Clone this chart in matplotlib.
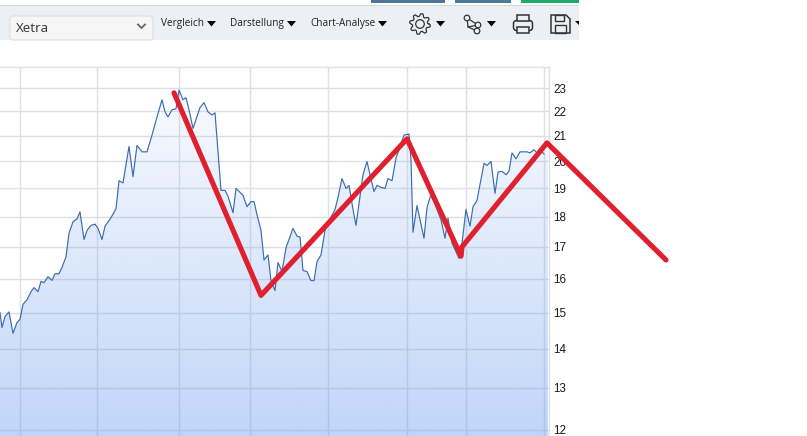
#!/usr/bin/env python3
"""Xetra price chart (log scale) with a hand drawn red zigzag on top."""

import numpy as np
import matplotlib
matplotlib.use('Agg')
import matplotlib.pyplot as plt
from matplotlib.patches import Circle, FancyBboxPatch, Polygon, Rectangle
from matplotlib.ticker import NullLocator

# price series
days = [0, 2, 5, 9, 13, 17, 20, 23, 27, 31, 34, 38, 41, 44, 48, 52, 55, 59, 62, 66,
        69, 73, 77, 80, 84, 87, 91, 95, 98, 102, 105, 109, 112, 116, 119, 123, 129, 133,
        137, 142, 147, 152, 157, 162, 165, 168, 172, 176, 179, 183, 186, 189, 193, 200,
        204, 208, 212, 215, 221, 225, 228, 233, 236, 240, 243, 247, 251, 254, 257, 261,
        264, 268, 271, 275, 278, 282, 286, 293, 297, 300, 303, 307, 311, 314, 317, 321,
        325, 330, 335, 338, 342, 346, 349, 353, 356, 360, 363, 367, 370, 374, 377, 381,
        385, 388, 392, 396, 400, 404, 409, 411, 413, 417, 420, 424, 427, 431, 436, 441,
        445, 448, 452, 459, 462, 466, 470, 473, 477, 484, 487, 491, 495, 498, 502, 506,
        509, 512, 516, 520, 524, 527, 530, 534, 537, 540, 544]
prices = [15.0, 14.58, 14.89, 15.02, 14.42, 14.72, 14.81, 15.24, 15.37, 15.61, 15.73, 15.61,
          15.92, 15.88, 16.06, 15.95, 16.15, 16.15, 16.35, 16.68, 17.45, 17.83, 17.93, 18.17,
          17.24, 17.54, 17.71, 17.75, 17.61, 17.24, 17.68, 17.87, 18.03, 18.28, 19.28, 19.2,
          20.58, 19.43, 20.62, 20.37, 20.37, 21.03, 21.77, 22.49, 21.98, 21.77, 22.07, 22.11,
          22.91, 22.49, 22.58, 22.07, 21.3, 22.16, 22.37, 21.98, 21.85, 21.94, 18.93, 18.93,
          18.72, 18.14, 19.0, 18.86, 18.75, 18.35, 18.53, 18.53, 18.07, 17.54, 16.58, 16.74,
          15.94, 15.64, 16.5, 16.22, 16.97, 17.61, 17.35, 17.32, 16.25, 16.22, 15.94, 15.94,
          16.53, 16.74, 17.54, 17.93, 18.25, 18.68, 19.36, 19.0, 19.11, 18.25, 17.71, 18.72,
          19.5, 20.0, 19.5, 18.89, 19.11, 19.04, 19.0, 19.36, 19.28, 20.13, 20.56, 21.03,
          21.07, 20.06, 17.48, 18.39, 17.9, 17.28, 18.32, 18.79, 18.35, 17.9, 17.28, 17.96,
          17.12, 16.63, 17.12, 18.25, 17.68, 18.35, 18.57, 19.93, 19.85, 20.0, 18.82, 19.6,
          19.63, 19.5, 19.63, 20.33, 20.1, 20.37, 20.37, 20.37, 20.33, 20.45, 20.33, 20.45,
          20.29]

# red zigzag drawn over the chart
zigzag_days = [174, 261, 407, 461, 462, 547, 666]
zigzag_prices = [22.79, 15.5, 20.88, 16.7, 17.0, 20.72, 16.58]

y_ticks = [12, 13, 14, 15, 16, 17, 18, 19, 20, 21, 22, 23]
x_grid = [20, 97, 179, 250, 328, 407, 466, 544]
menu_labels = ['Vergleich', 'Darstellung', 'Chart-Analyse']
market = 'Xetra'

W, H = 807, 436
GRID = '#dfe0e3'
DARK = '#222222'

fig = plt.figure(figsize=(W / 100, H / 100), dpi=100, facecolor='white')

# toolbar lives in an overlay in pixel coordinates
bar = fig.add_axes([0, 0, 1, 1], zorder=3)
bar.set_xlim(0, W)
bar.set_ylim(H, 0)
bar.axis('off')
bar.patch.set_alpha(0)

bar.add_patch(Rectangle((0, 5), 579, 35, fc='#eceff3', ec='none'))
bar.add_patch(Rectangle((0, 5), 579, 1, fc='#d3d8dd', ec='none'))
bar.add_patch(Rectangle((371, 0), 74, 3, fc='#4f7796', ec='none'))
bar.add_patch(Rectangle((455, 0), 56, 3, fc='#4f7796', ec='none'))
bar.add_patch(Rectangle((521, 0), 58, 3, fc='#1aab6b', ec='none'))

bar.add_patch(FancyBboxPatch((11, 17), 141, 22, boxstyle='round,pad=1,rounding_size=3',
                             fc='#f6f6f6', ec='#dedede', lw=0.8))
bar.text(16, 28, market, fontsize=9.6, family='Open Sans', color='#333333', va='center')
bar.plot([138, 141.5, 145], [24.5, 28, 24.5], color='#666666', lw=1.3)

for label, x in zip(menu_labels, [161, 230, 310]):
    bar.text(x, 23.5, label, fontsize=7.2, family='Open Sans', color=DARK, va='center')
for x in [207, 287, 378, 436, 487]:
    bar.add_patch(Polygon([(x, 21), (x + 9, 21), (x + 4.5, 26.5)], fc='black', ec='none'))
bar.add_patch(Polygon([(575, 21), (579, 21), (579, 25.5)], fc='black', ec='none'))

# gear icon
ang = np.linspace(0, 2 * np.pi, 65)
rad = 9 + 1.4 * np.tanh(3 * np.sin(8 * ang))
bar.plot(420 + rad * np.cos(ang), 24 + rad * np.sin(ang), color='#333333', lw=0.9)
bar.add_patch(Circle((420, 24), 4.3, fc='none', ec='#333333', lw=0.9))

# network icon
net = [(467, 18), (478, 25), (468, 27), (477, 31)]
bar.plot([467, 468, 477], [18, 27, 31], color='#333333', lw=0.9)
bar.plot([467, 478, 468], [18, 25, 27], color='#333333', lw=0.9)
for cx, cy in net[:2] + net[3:]:
    bar.add_patch(Circle((cx, cy), 2.8, fc='#eceff3', ec='#333333', lw=0.9, zorder=3))

# printer icon
bar.add_patch(FancyBboxPatch((514, 21), 18, 9, boxstyle='round,pad=0.5,rounding_size=3',
                             fc='none', ec='#333333', lw=1.1))
bar.add_patch(Rectangle((517, 15.5), 12, 5.5, fc='#eceff3', ec='#333333', lw=1.1))
bar.add_patch(Rectangle((517, 27), 12, 6, fc='#eceff3', ec='#333333', lw=1.1))

# floppy icon
bar.add_patch(Polygon([(551, 15), (566, 15), (570, 19), (570, 33), (551, 33)],
                      fc='none', ec='#333333', lw=1.1))
bar.add_patch(Rectangle((555, 15), 9, 6, fc='none', ec='#333333', lw=1.0))
bar.add_patch(Rectangle((555, 25), 11, 8, fc='none', ec='#333333', lw=1.0))

# the chart itself
ax = fig.add_axes([0, 0, 549 / W, (436 - 67) / H], zorder=2)
ax.set_yscale('log')
ax.set_axisbelow(True)
ax.grid(True, color=GRID, lw=1.0)

# blue gradient under the line, grid shows through it
grad = np.zeros((256, 1, 4))
grad[..., 0] = 0x66 / 255
grad[..., 1] = 0x99 / 255
grad[..., 2] = 0xee / 255
grad[:, 0, 3] = np.linspace(0.02, 0.41, 256)
im = ax.imshow(grad, extent=(0, 1, 0, 1), origin='upper', transform=ax.transAxes,
               aspect='auto', zorder=1)

ymin, ymax = 11.86, 23.94
edge_x = days + [548, 548, days[0]]
edge_y = prices + [prices[-1], ymin, ymin]
clip = Polygon(np.column_stack([edge_x, edge_y]), closed=True, transform=ax.transData,
               fc='none', ec='none')
ax.add_patch(clip)
im.set_clip_path(clip)

ax.plot(days, prices, color='#3a6cb0', lw=0.85, zorder=2)
ax.plot(zigzag_days, zigzag_prices, color='#e0202e', lw=3.7, zorder=6, clip_on=False,
        solid_capstyle='round', solid_joinstyle='round')

ax.set_xlim(0, 549)
ax.set_ylim(ymin, ymax)
ax.set_xticks(x_grid)
ax.set_xticklabels([])
ax.set_yticks(y_ticks)
ax.set_yticklabels([str(v) for v in y_ticks])
ax.yaxis.set_minor_locator(NullLocator())
ax.yaxis.tick_right()
ax.tick_params(axis='both', length=0)
ax.tick_params(axis='y', pad=3, labelsize=8.4, labelcolor='#1a1a1a')
for lab in ax.get_yticklabels():
    lab.set_family('Liberation Sans')
for side in ['left', 'bottom']:
    ax.spines[side].set_visible(False)
for side in ['top', 'right']:
    ax.spines[side].set_color(GRID)
    ax.spines[side].set_linewidth(1.0)

plt.savefig('out.png', dpi=100)
